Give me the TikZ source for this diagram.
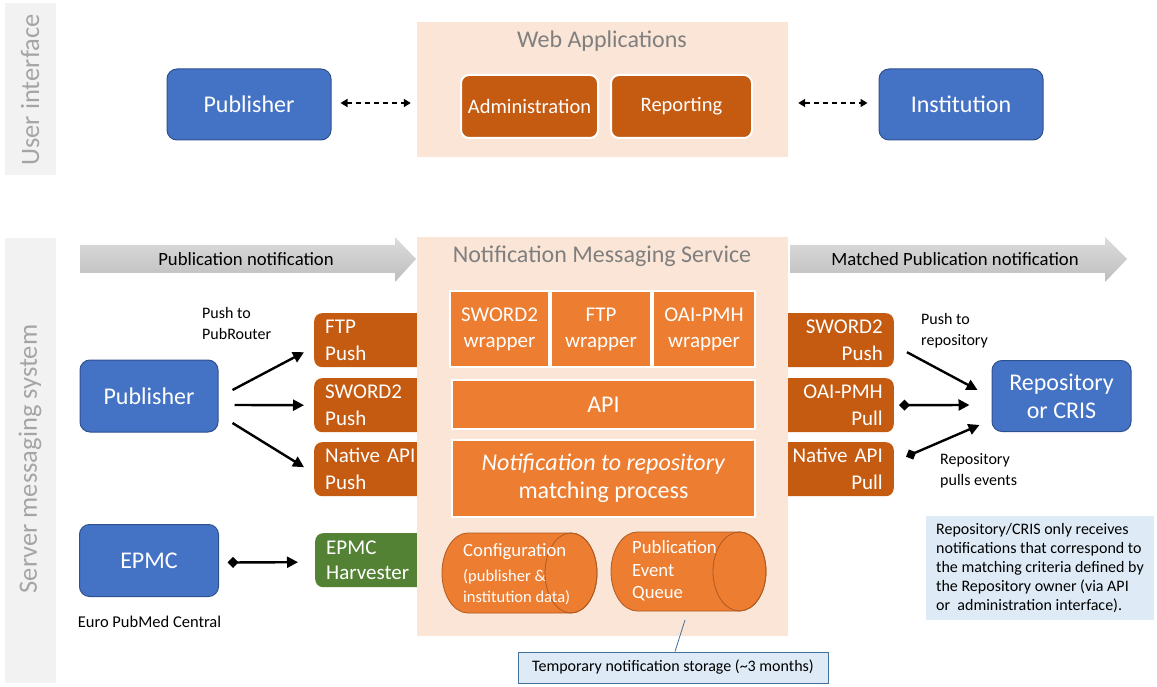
\documentclass[tikz,border=0pt]{standalone}
\usepackage{fontspec}
\setmainfont{Carlito}
\usepackage{xcolor}
\usepackage{tikz}
\usetikzlibrary{positioning,arrows,arrows.meta}

\definecolor{boxblue}{HTML}{4472C4}
\definecolor{boxblueline}{HTML}{2F528F}
\definecolor{rust}{HTML}{C55A11}
\definecolor{orng}{HTML}{ED7D31}
\definecolor{orngline}{HTML}{AE5A21}
\definecolor{peach}{HTML}{FBE5D6}
\definecolor{leaf}{HTML}{548235}
\definecolor{paleblue}{HTML}{DEEBF7}
\definecolor{calloutline}{HTML}{41719C}
\definecolor{bandgray}{HTML}{F2F2F2}
\definecolor{labelgray}{HTML}{A5A5A5}
\definecolor{titlegray}{HTML}{7F7F7F}
\definecolor{arrowtop}{HTML}{DCDCDC}
\definecolor{arrowbot}{HTML}{BEBEBE}

\begin{document}
\begin{tikzpicture}[x=1pt,y=-1pt,
    bluebox/.style={draw=boxblueline,line width=1pt,fill=boxblue,rounded corners=10pt,text=white,align=center,inner sep=0pt,font=\fontsize{24}{28}\selectfont},
    webbox/.style={draw=white,line width=2pt,fill=rust,rounded corners=8pt,text=white,inner sep=0pt,minimum height=63pt,font=\fontsize{20.5}{25}\selectfont},
    wrapbox/.style={draw=white,line width=2pt,fill=orng,text=white,align=center,inner sep=0pt,font=\fontsize{21}{26}\selectfont},
    corebox/.style={draw=white,line width=2pt,fill=orng,text=white,align=center,inner sep=0pt,minimum width=303pt,font=\fontsize{24}{28}\selectfont},
    sidebox/.style={fill=rust,rounded corners=8pt,text=white,minimum width=120pt,minimum height=54pt,text width=98pt,inner xsep=11pt,inner ysep=0pt,font=\fontsize{21}{27}\selectfont},
    panel/.style={fill=peach,inner sep=0pt},
    title/.style={text=titlegray,inner sep=0pt,font=\fontsize{24}{28}\selectfont},
    bandtext/.style={text=labelgray,rotate=90,inner sep=0pt,font=\fontsize{26.5}{30}\selectfont},
    arrowtext/.style={inner sep=0pt,font=\fontsize{18.7}{22}\selectfont},
    smalltext/.style={align=left,inner sep=0pt,font=\fontsize{16}{21}\selectfont},
    cyltext/.style={text=white,align=left,inner sep=0pt},
    notebox/.style={fill=paleblue,align=left,inner xsep=10pt,inner ysep=7pt,font=\fontsize{16}{19}\selectfont},
    dasharrow/.style={line width=1.5pt,dash pattern=on 5pt off 4pt,{Triangle[length=7pt,width=8pt]}-{Triangle[length=7pt,width=8pt]}},
    linkarrow/.style={line width=2.4pt,-{Triangle[length=11pt,width=11pt]}},
    diamarrow/.style={line width=2.4pt,{Diamond[length=11pt,width=11pt]}-{Triangle[length=11pt,width=11pt]}}]

    \useasboundingbox (0,0) rectangle (1157,687);

    % Side bands
    \fill[bandgray] (5,3) rectangle (56,175);
    \fill[bandgray] (5,238) rectangle (56,683);
    \node [bandtext] at (30,90) (ui) {User interface};
    \node [bandtext] at (30,459) (sms) {Server messaging system};

    % User interface row
    \node [bluebox,minimum width=164pt,minimum height=71pt] at (249,104.5) (pubtop) {Publisher};
    \node [panel,minimum width=371pt,minimum height=135pt] at (602.5,89.5) (webapps) {};
    \node [title] at (602,41) (webtitle) {Web Applications};
    \node [webbox,minimum width=137pt] at (529.5,106.5) (admin) {Administration};
    \node [webbox,minimum width=141pt] at (681.5,106.5) (report) {Reporting};
    \node [bluebox,minimum width=164pt,minimum height=71pt] at (961,104.5) (inst) {Institution};

    \path[dasharrow]
    ([xshift=9pt,yshift=1.5pt]pubtop.east) edge ([xshift=-6pt,yshift=-13.5pt]webapps.west)
    ([xshift=10pt,yshift=-13.5pt]webapps.east) edge ([xshift=-11pt,yshift=1.5pt]inst.west);

    % Flow arrows
    \shade[top color=arrowtop,bottom color=arrowbot] (80,245) -- (395,245) -- (395,237) -- (416,259) -- (395,282) -- (395,273) -- (80,273) -- cycle;
    \shade[top color=arrowtop,bottom color=arrowbot] (790,245) -- (1105,245) -- (1105,237) -- (1127,259) -- (1105,282) -- (1105,273) -- (790,273) -- cycle;
    \node [arrowtext] at (246,259) (pubnote) {Publication notification};
    \node [arrowtext] at (955,259) (matchnote) {Matched Publication notification};

    % Deposit and delivery channels
    \node [sidebox,anchor=north west,align=left] at (314,313) (ftppush) {FTP\\Push};
    \node [sidebox,anchor=north west,align=left] at (314,378) (swordpush) {SWORD2\\Push};
    \node [sidebox,anchor=north west,align=left] at (314,442) (nativepush) {Native API\\Push};
    \node [sidebox,anchor=north west,align=left,fill=leaf,font=\fontsize{21}{25}\selectfont] at (315,533) (harvester) {EPMC\\Harvester};
    \node [sidebox,anchor=north east,align=right] at (894,313) (repopush) {SWORD2\\Push};
    \node [sidebox,anchor=north east,align=right] at (894,378) (oaipull) {OAI-PMH\\Pull};
    \node [sidebox,anchor=north east,align=right] at (894,442) (nativepull) {Native API\\Pull};

    % Notification Messaging Service
    \node [panel,minimum width=371pt,minimum height=399pt] at (602.5,436.5) (nms) {};
    \node [title] at (602,256) (nmstitle) {Notification Messaging Service};
    \node [wrapbox,minimum width=99pt,minimum height=76pt] at (499.5,329) (swordwrap) {SWORD2\\wrapper};
    \node [wrapbox,minimum width=100pt,minimum height=76pt] at (601,329) (ftpwrap) {FTP\\wrapper};
    \node [wrapbox,minimum width=102pt,minimum height=76pt] at (704,329) (oaiwrap) {OAI-PMH\\wrapper};
    \node [corebox,minimum height=49pt] at (603.5,404.5) (api) {API};
    \node [corebox,minimum height=77pt] at (603.5,478.5) (matching) {\textit{Notification to repository}\\matching process};

    % Storage
    \filldraw[fill=orng,draw=orngline,line width=0.8pt] (468,533) -- (571,533) arc[start angle=-90,end angle=90,x radius=26,y radius=40] -- (468,613) arc[start angle=90,end angle=270,x radius=26,y radius=40] -- cycle;
    \draw[orngline,line width=0.8pt] (571,573) ellipse [x radius=26,y radius=40];
    \filldraw[fill=orng,draw=orngline,line width=0.8pt] (637.5,532) -- (739.5,532) arc[start angle=-90,end angle=90,x radius=26.5,y radius=39.5] -- (637.5,611) arc[start angle=90,end angle=270,x radius=26.5,y radius=39.5] -- cycle;
    \draw[orngline,line width=0.8pt] (739.5,571.5) ellipse [x radius=26.5,y radius=39.5];
    \node [cyltext,anchor=west,font=\fontsize{16.5}{21}\selectfont] at (463,574) (configtext) {{\fontsize{18.7}{22}\selectfont Configuration}\\[4pt](publisher \&\\institution data)};
    \node [cyltext,anchor=west,font=\fontsize{18.7}{22.5}\selectfont] at (632,571) (queuetext) {Publication\\Event\\Queue};

    % Outside parties
    \node [bluebox,minimum width=138pt,minimum height=72pt] at (149,396) (pub) {Publisher};
    \node [bluebox,minimum width=139pt,minimum height=72pt] at (149,560.5) (epmc) {EPMC};
    \node [bluebox,minimum width=139pt,minimum height=71pt] at (1061.5,396) (repo) {Repository\\or CRIS};
    \node [smalltext,font=\fontsize{16.5}{20}\selectfont] at (149.5,622) (epmcname) {Euro PubMed Central};
    \node [smalltext,anchor=west] at (202,323.5) (pushlabel) {Push to\\PubRouter};
    \node [smalltext,anchor=west] at (921,331) (repolabel) {Push to\\repository};
    \node [smalltext,anchor=west] at (940,471) (pulllabel) {Repository\\pulls events};
    \node [notebox,anchor=north west] at (926,516) (criteria) {Repository/CRIS only receives\\notifications that correspond to\\the matching criteria defined by\\the Repository owner (via API\\or\ \ administration interface).};
    \node [draw=calloutline,line width=0.8pt,fill=paleblue,minimum width=310pt,minimum height=31pt,inner sep=0pt,font=\fontsize{16}{19}\selectfont] at (673,667.5) (tempnote) {Temporary notification storage (\textasciitilde3 months)};
    \coordinate (qtip) at (685,620);

    % Connectors
    \path[linkarrow]
    ([xshift=14pt,yshift=6pt]pub.east) edge ([xshift=-10pt,yshift=-12pt]ftppush.west)
    ([xshift=16pt,yshift=-9pt]pub.east) edge ([xshift=-10pt]swordpush.west)
    ([xshift=14pt,yshift=-27pt]pub.east) edge ([xshift=-10pt,yshift=2pt]nativepush.west)
    ([xshift=13pt,yshift=-12pt]repopush.east) edge ([xshift=-14pt,yshift=6pt]repo.west);
    \path[diamarrow]
    ([xshift=8.5pt,yshift=-2pt]epmc.east) edge ([xshift=-17pt,yshift=-2pt]harvester.west)
    ([xshift=5pt]oaipull.east) edge ([xshift=-22pt,yshift=-9pt]repo.west)
    ([xshift=12pt,yshift=12.5pt]nativepull.east) edge ([xshift=-12pt,yshift=-29pt]repo.west);
    \draw[calloutline,line width=0.8pt] (qtip) -- ([xshift=2pt]tempnote.north);

\end{tikzpicture}
\end{document}
